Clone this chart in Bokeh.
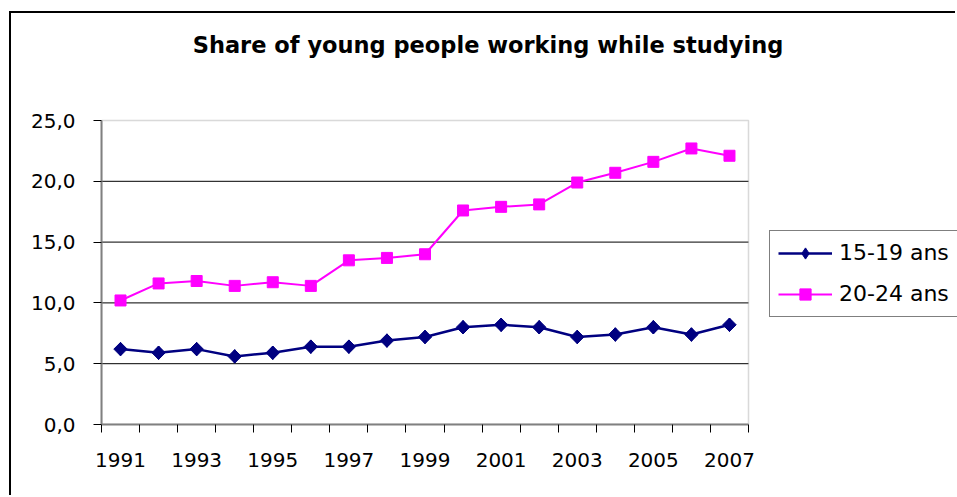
from bokeh.plotting import figure
from bokeh.models import FixedTicker, Legend, LegendItem, Range1d, BoxAnnotation, Label
from bokeh.embed import file_html
from bokeh.resources import INLINE
import numpy as np

years = list(range(1991, 2008))
age_15_19 = [6.2, 5.9, 6.2, 5.6, 5.9, 6.4, 6.4, 6.9, 7.2, 8.0, 8.2, 8.0, 7.2, 7.4, 8.0, 7.4, 8.2]
age_20_24 = [10.2, 11.6, 11.8, 11.4, 11.7, 11.4, 13.5, 13.7, 14.0, 17.6, 17.9, 18.1, 19.9, 20.7, 21.6, 22.7, 22.1]
y_ticks = [0, 5, 10, 15, 20, 25]
y_labels = ["0,0", "5,0", "10,0", "15,0", "20,0", "25,0"]
x_label_years = [1991, 1993, 1995, 1997, 1999, 2001, 2003, 2005, 2007]
title_text = "Share of young people working while studying"

FONT = "DejaVu Sans"

# ---- layout in pixels (figure content starts at screen x=11, y=13) ----
W, H = 946, 484
LEFT, BOTTOM = 90, 73
PLOT_W, PLOT_H = 647, 304          # the data area (axes box)
FRAME_W, FRAME_H = W - LEFT, H - BOTTOM   # frame is larger so title/legend are not clipped
TITLE_CX = 476.5                   # title centre, px from the left of the figure content
TITLE_BASE = 31                    # title baseline, px from the top of the figure content

x0, x1 = years[0] - 0.5, years[-1] + 0.5
y0, y1 = y_ticks[0], y_ticks[-1]
x_end = x0 + (x1 - x0) * FRAME_W / PLOT_W
y_end = y0 + (y1 - y0) * FRAME_H / PLOT_H
px_x = (x1 - x0) / PLOT_W
px_y = (y1 - y0) / PLOT_H

p = figure(width=W, height=H, output_backend="svg", toolbar_location=None,
           x_range=Range1d(x0, x_end), y_range=Range1d(y0, y_end),
           min_border_left=LEFT, min_border_top=0, min_border_right=0, min_border_bottom=BOTTOM)
p.styles = {"margin-left": "9px", "margin-top": "11px",
            "border-left": "2px solid black", "border-top": "2px solid black"}

p.outline_line_color = None
p.background_fill_color = "white"
p.border_fill_color = "white"
p.xgrid.grid_line_color = None
p.ygrid.grid_line_color = None

# title
p.add_layout(Label(x=x0 + (TITLE_CX - LEFT) * px_x, y=y_end - TITLE_BASE * px_y,
                   text=title_text, text_font=FONT, text_font_size="22.5px",
                   text_font_style="bold", text_color="black",
                   text_align="center", text_baseline="alphabetic"))

# horizontal gridlines inside the axes box
grid_y = y_ticks[1:-1]
p.segment(x0=[x0] * len(grid_y), y0=grid_y, x1=[x1] * len(grid_y), y1=grid_y,
          line_color="black", line_width=1)

# axes box border (grey)
p.add_layout(BoxAnnotation(left=x0, right=x1, bottom=y0, top=y1,
                           fill_alpha=0, line_color="#808080", line_width=1.5))

# y axis
p.yaxis.bounds = (y0, y1)
p.yaxis.ticker = FixedTicker(ticks=y_ticks)
p.yaxis.major_label_overrides = {t: l for t, l in zip(y_ticks, y_labels)}
p.yaxis.axis_line_color = "#808080"
p.yaxis.axis_line_width = 2
p.yaxis.major_tick_out = 8
p.yaxis.major_tick_in = 0
p.yaxis.major_tick_line_color = "black"
p.yaxis.minor_tick_line_color = None
p.yaxis.major_label_standoff = 18
p.yaxis.major_label_text_font = FONT
p.yaxis.major_label_text_font_size = "20px"
p.yaxis.major_label_text_color = "black"

# x axis
p.xaxis.bounds = (x0, x1)
p.xaxis.ticker = FixedTicker(ticks=x_label_years,
                             minor_ticks=[y - 0.5 for y in years] + [x1])
p.xaxis.axis_line_color = "#808080"
p.xaxis.axis_line_width = 2
p.xaxis.major_tick_line_color = None
p.xaxis.major_tick_out = 8
p.xaxis.major_tick_in = 0
p.xaxis.minor_tick_line_color = "black"
p.xaxis.minor_tick_out = 8
p.xaxis.minor_tick_in = 0
p.xaxis.major_label_standoff = 20
p.xaxis.major_label_text_font = FONT
p.xaxis.major_label_text_font_size = "20px"
p.xaxis.major_label_text_color = "black"

l1 = p.line(years, age_15_19, line_color="#000080", line_width=2.5)
# diamond drawn under the rotated square: gives the legend a diamond symbol
d1 = p.scatter(years, age_15_19, marker="diamond", size=13.5,
               fill_color="#000080", line_color="#000080")
m1 = p.scatter(years, age_15_19, marker="square", angle=np.pi / 4, size=9.5,
               fill_color="#000080", line_color="#000080")
l2 = p.line(years, age_20_24, line_color="#FF00FF", line_width=2)
m2 = p.scatter(years, age_20_24, marker="square", size=11,
               fill_color="#FF00FF", line_color="#FF00FF")

legend = Legend(items=[LegendItem(label="15-19 ans", renderers=[l1, d1]),
                       LegendItem(label="20-24 ans", renderers=[l2, m2])],
                location=(PLOT_W + 21, 107.5), margin=0, padding=8, spacing=13,
                glyph_width=54, glyph_height=28, label_height=28, label_standoff=7,
                label_text_font=FONT, label_text_font_size="22px", label_text_color="black",
                border_line_color="black", border_line_width=1,
                background_fill_color="white")
p.add_layout(legend, "center")

open("out.html", "w").write(file_html(p, INLINE))
